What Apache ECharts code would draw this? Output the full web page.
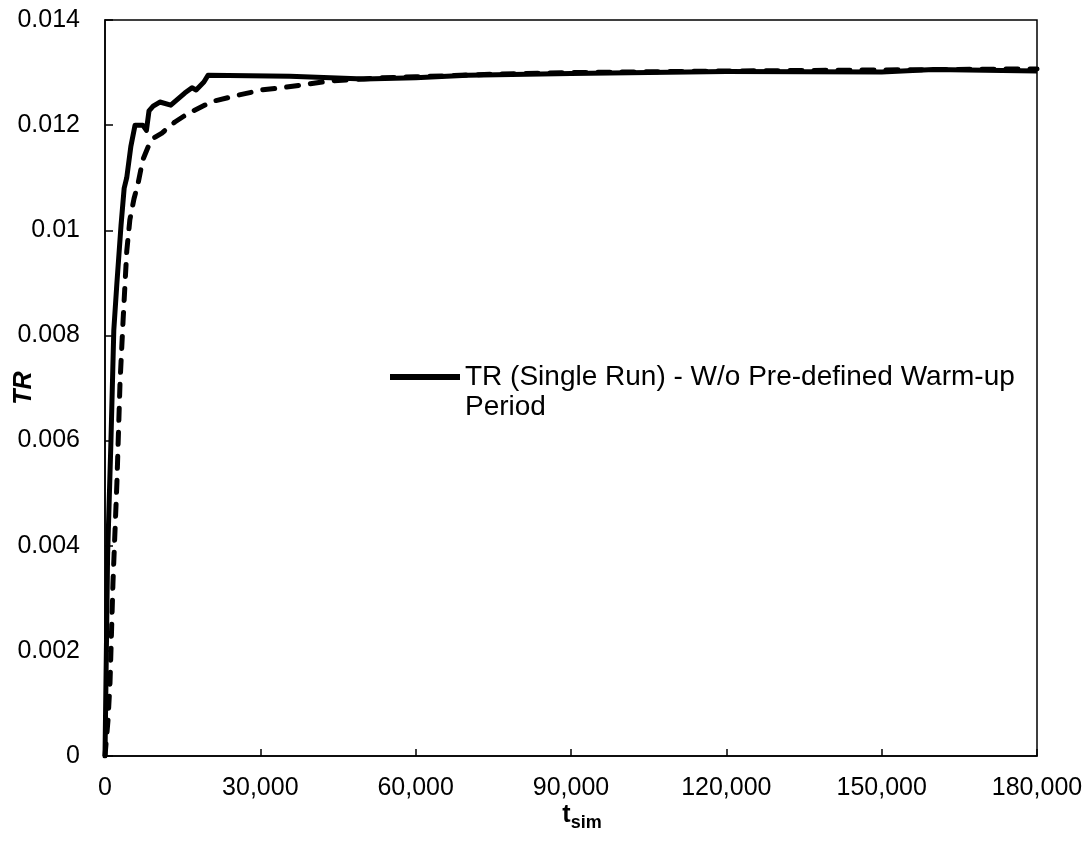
<!DOCTYPE html>
<html>
<head>
<meta charset="utf-8">
<script src="https://cdn.jsdelivr.net/npm/echarts@6/dist/echarts.min.js"></script>
<style>
html,body{margin:0;padding:0;background:#fff;}
#chart{width:1092px;height:843px;}
</style>
</head>
<body>
<div id="chart"></div>
<script>
// Solid curve: TR (Single Run) - W/o Pre-defined Warm-up Period
var solidX = [0, 500, 1150, 1700, 2300, 3100, 3700, 4200, 5000, 5800, 7300, 8000, 8500, 9300, 10600, 12700, 15400, 16800, 17600, 19100, 19900, 35700, 50000, 60000, 70000, 90000, 120000, 150000, 160000, 180000];
var solidY = [0, 0.0038, 0.0060, 0.0081, 0.0090, 0.0101, 0.0108, 0.0110, 0.0116, 0.0120, 0.0120, 0.0119, 0.01227, 0.01236, 0.01244, 0.01238, 0.01261, 0.01271, 0.01267, 0.01282, 0.01295, 0.01293, 0.01288, 0.0129, 0.01295, 0.01298, 0.01302, 0.01301, 0.01306, 0.01303];
// Dashed curve (unlabelled)
var dashX = [0, 580, 970, 1540, 2300, 2900, 3500, 4200, 4800, 5600, 6400, 7300, 8300, 9300, 11000, 13500, 16000, 20700, 25700, 30300, 34800, 43400, 53100, 60000, 75000, 90000, 120000, 150000, 180000];
var dashY = [0, 0.00068, 0.0014, 0.0033, 0.0052, 0.0071, 0.0083, 0.0096, 0.0102, 0.0106, 0.0109, 0.01134, 0.01158, 0.01175, 0.01185, 0.01206, 0.01222, 0.01245, 0.01257, 0.01267, 0.01272, 0.01284, 0.0129, 0.01292, 0.01297, 0.013, 0.01303, 0.01305, 0.01307];
var seriesNames = ['TR (Single Run) - W/o Pre-defined Warm-up Period', 'TR (dashed)'];
var xTicks = {min: 0, max: 180000, interval: 30000};
var yTicks = {min: 0, max: 0.014, interval: 0.002};

function zip(xs, ys){ return xs.map(function(x,i){ return [x, ys[i]]; }); }

var FONT = 'Liberation Sans, Arial, sans-serif';
var chart = echarts.init(document.getElementById('chart'), null, {renderer:'canvas'});
chart.setOption({
  animation: false,
  backgroundColor: '#fff',
  grid: {left: 105, right: 55, top: 20, bottom: 87, show: true, borderColor: '#000', borderWidth: 1.5,
    containLabel: false, outerBoundsMode: 'none'},
  legend: {
    data: [seriesNames[0]],
    left: 390, top: 332, padding: 0,
    itemWidth: 70, itemHeight: 6, itemGap: 0,
    icon: 'rect',
    formatter: function(){ return '\nTR (Single Run) - W/o Pre-defined Warm-up\nPeriod'; },
    textStyle: {fontFamily: FONT, fontSize: 28, color: '#000', lineHeight: 30},
    itemStyle: {color: '#000'}
  },
  xAxis: {
    type: 'value', min: xTicks.min, max: xTicks.max, interval: xTicks.interval,
    name: '{t|t}{s|sim}', nameLocation: 'middle', nameGap: 42, nameMoveOverlap: false,
    nameTextStyle: {rich: {
      t: {fontFamily: FONT, fontSize: 25, fontWeight: 'bold', color: '#000', padding: [0,0,0,22]},
      s: {fontFamily: FONT, fontSize: 18, fontWeight: 'bold', color: '#000', padding: [16,0,0,0]}
    }},
    axisLine: {show: true, lineStyle: {color: '#000', width: 1.5}},
    axisTick: {show: true, inside: true, length: 7, lineStyle: {color: '#000', width: 1.5}},
    splitLine: {show: false},
    axisLabel: {fontFamily: FONT, fontSize: 25, color: '#000', margin: 20,
      formatter: function(v){ return v.toLocaleString('en-US'); }}
  },
  yAxis: {
    type: 'value', min: yTicks.min, max: yTicks.max, interval: yTicks.interval,
    name: 'TR', nameLocation: 'middle', nameGap: 68, nameMoveOverlap: false,
    nameTextStyle: {fontFamily: FONT, fontSize: 25, fontWeight: 'bold', fontStyle: 'italic', color: '#000'},
    axisLine: {show: true, lineStyle: {color: '#000', width: 1.5}},
    axisTick: {show: true, inside: true, length: 8, lineStyle: {color: '#000', width: 1.5}},
    splitLine: {show: false},
    axisLabel: {fontFamily: FONT, fontSize: 25, color: '#000', margin: 25,
      formatter: function(v){ return String(parseFloat(v.toFixed(3))); }}
  },
  series: [
    {name: seriesNames[0], type: 'line', data: zip(solidX, solidY), showSymbol: false, symbol: 'none',
      lineStyle: {color: '#000', width: 5, join: 'round'}, z: 3},
    {name: seriesNames[1], type: 'line', data: zip(dashX, dashY), showSymbol: false, symbol: 'none',
      lineStyle: {color: '#000', width: 5, type: [12, 12], cap: 'round', join: 'round'}, z: 2}
  ]
});
</script>
</body>
</html>
